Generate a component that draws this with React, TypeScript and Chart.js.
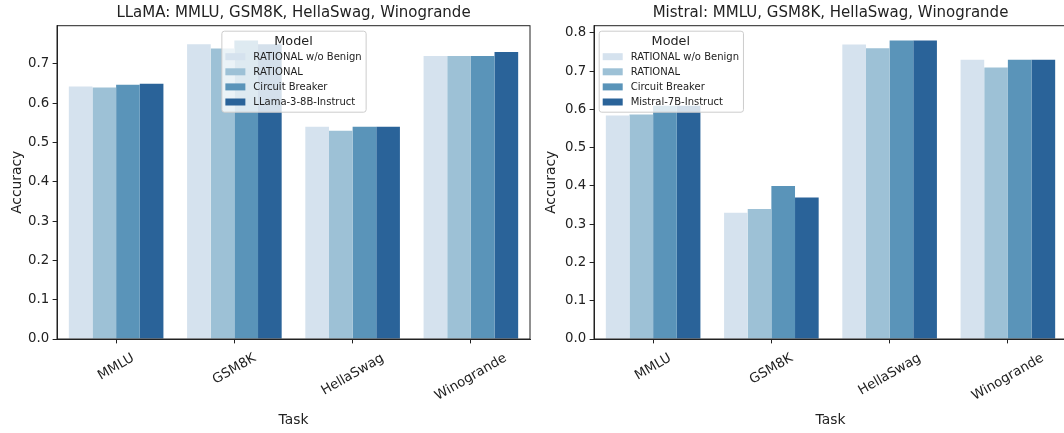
import React, { useEffect, useRef } from 'react';
import { Chart, registerables } from 'chart.js';

Chart.register(...registerables);

// ---------- data ----------
const TASKS = ['MMLU', 'GSM8K', 'HellaSwag', 'Winogrande'];
const Y_TICK_STEP = 0.1;
const LEGEND_TITLE = 'Model';
const X_TITLE = 'Task';
const Y_TITLE = 'Accuracy';

const LLAMA_TITLE = 'LLaMA: MMLU, GSM8K, HellaSwag, Winogrande';
const LLAMA_LABELS = ['RATIONAL w/o Benign', 'RATIONAL', 'Circuit Breaker', 'LLama-3-8B-Instruct'];
const LLAMA_NO_BENIGN = [0.642, 0.75, 0.54, 0.72];
const LLAMA_RATIONAL = [0.64, 0.739, 0.53, 0.72];
const LLAMA_CB = [0.647, 0.759, 0.54, 0.72];
const LLAMA_BASE = [0.649, 0.75, 0.54, 0.73];

const MISTRAL_TITLE = 'Mistral: MMLU, GSM8K, HellaSwag, Winogrande';
const MISTRAL_LABELS = ['RATIONAL w/o Benign', 'RATIONAL', 'Circuit Breaker', 'Mistral-7B-Instruct'];
const MISTRAL_NO_BENIGN = [0.584, 0.33, 0.77, 0.73];
const MISTRAL_RATIONAL = [0.587, 0.34, 0.76, 0.71];
const MISTRAL_CB = [0.61, 0.4, 0.78, 0.73];
const MISTRAL_BASE = [0.61, 0.37, 0.78, 0.73];

const COLORS = ['#d5e2ee', '#9dc1d6', '#5a94b9', '#2a6399'];

// ---------- styling ----------
const FONT = "'DejaVu Sans', sans-serif";
const INK = '#222222';
const H = 433;
const TICK_FS = 13.3;
const LABEL_FS = 13.8;

type PanelCfg = {
  title: string;
  labels: string[];
  series: number[][];
  canvasLeft: number;
  canvasWidth: number;
  yWidth: number;
  padRight: number;
  yLabelOffset: number;
  legendMode: 'center' | 'left';
};

function roundRect(ctx: CanvasRenderingContext2D, x: number, y: number, w: number, h: number, r: number) {
  ctx.beginPath();
  ctx.moveTo(x + r, y);
  ctx.lineTo(x + w - r, y);
  ctx.arcTo(x + w, y, x + w, y + r, r);
  ctx.lineTo(x + w, y + h - r);
  ctx.arcTo(x + w, y + h, x + w - r, y + h, r);
  ctx.lineTo(x + r, y + h);
  ctx.arcTo(x, y + h, x, y + h - r, r);
  ctx.lineTo(x, y + r);
  ctx.arcTo(x, y, x + r, y, r);
  ctx.closePath();
}

function makeChart(canvas: HTMLCanvasElement, cfg: PanelCfg) {
  const yMax = Math.max(...cfg.series.flat()) * 1.05;

  const decor = {
    id: 'decor',
    afterDraw(chart: any) {
      const ctx: CanvasRenderingContext2D = chart.ctx;
      const a = chart.chartArea;
      const xs = chart.scales.x;
      ctx.save();
      // full box spines
      ctx.strokeStyle = INK;
      ctx.lineWidth = 1;
      ctx.strokeRect(a.left, a.top, a.right - a.left, a.bottom - a.top);

      // title
      ctx.fillStyle = INK;
      ctx.font = `15px ${FONT}`;
      ctx.textAlign = 'center';
      ctx.textBaseline = 'middle';
      ctx.fillText(cfg.title, (a.left + a.right) / 2, 13.5);

      // x tick labels, rotated 30deg, centred at tick
      ctx.font = `${TICK_FS}px ${FONT}`;
      const ang = (30 * Math.PI) / 180;
      TASKS.forEach((t, i) => {
        const px = xs.getPixelForTick(i);
        const w = ctx.measureText(t).width;
        const bh = w * Math.sin(ang) + TICK_FS * Math.cos(ang);
        const cy = a.bottom + 12.5 + bh / 2;
        ctx.save();
        ctx.translate(px, cy);
        ctx.rotate(-ang);
        ctx.textAlign = 'center';
        ctx.textBaseline = 'middle';
        ctx.fillText(t, 0, 0);
        ctx.restore();
      });

      // axis titles
      ctx.font = `${LABEL_FS}px ${FONT}`;
      ctx.textAlign = 'center';
      ctx.textBaseline = 'middle';
      ctx.fillText(X_TITLE, (a.left + a.right) / 2, 420);
      ctx.save();
      ctx.translate(a.left - cfg.yLabelOffset, (a.top + a.bottom) / 2);
      ctx.rotate(-Math.PI / 2);
      ctx.fillText(Y_TITLE, 0, 0);
      ctx.restore();

      // legend
      ctx.font = `10px ${FONT}`;
      const maxW = Math.max(...cfg.labels.map((l) => ctx.measureText(l).width));
      const lw = 36 + maxW;
      const lh = 81;
      const lx = cfg.legendMode === 'center' ? (a.left + a.right) / 2 - lw / 2 : a.left + 4.7;
      const ly = a.top + 5;
      roundRect(ctx, lx + 0.5, ly + 0.5, lw, lh, 2.5);
      ctx.fillStyle = 'rgba(255,255,255,0.8)';
      ctx.fill();
      ctx.strokeStyle = '#cccccc';
      ctx.lineWidth = 1;
      ctx.stroke();

      ctx.fillStyle = INK;
      ctx.font = `12.8px ${FONT}`;
      ctx.textAlign = 'center';
      ctx.fillText(LEGEND_TITLE, lx + lw / 2, ly + 10.5);
      ctx.font = `10px ${FONT}`;
      ctx.textAlign = 'left';
      cfg.labels.forEach((l, i) => {
        const cy = ly + 26 + i * 15.1;
        ctx.fillStyle = COLORS[i];
        ctx.fillRect(lx + 4, cy - 3.5, 20, 7);
        ctx.fillStyle = INK;
        ctx.fillText(l, lx + 32, cy + 0.5);
      });
      ctx.restore();
    },
  };

  return new Chart(canvas, {
    type: 'bar',
    data: {
      labels: TASKS,
      datasets: cfg.series.map((d, i) => ({
        label: cfg.labels[i],
        data: d,
        backgroundColor: COLORS[i],
        borderWidth: 0,
        categoryPercentage: 0.8,
        barPercentage: 1.0,
      })),
    },
    options: {
      animation: false,
      responsive: false,
      layout: { padding: { top: 25.7, left: 0, right: cfg.padRight, bottom: 0 } },
      plugins: {
        legend: { display: false },
        title: { display: false },
        tooltip: { enabled: false },
      },
      scales: {
        x: {
          type: 'category',
          offset: true,
          grid: {
            display: true,
            drawOnChartArea: false,
            drawTicks: true,
            tickLength: 4.4,
            color: INK,
            offset: false,
            lineWidth: 1,
          },
          border: { display: true, color: INK, width: 1 },
          ticks: { display: false },
          afterFit: (s: any) => {
            s.height = H - 339;
          },
        },
        y: {
          type: 'linear',
          min: 0,
          max: yMax,
          grid: {
            display: true,
            drawOnChartArea: false,
            drawTicks: true,
            tickLength: 4.4,
            color: INK,
            lineWidth: 1,
          },
          border: { display: true, color: INK, width: 1 },
          ticks: {
            stepSize: Y_TICK_STEP,
            includeBounds: false,
            padding: 3.5,
            color: INK,
            font: { family: FONT, size: TICK_FS },
            callback: (v: any) => Number(v).toFixed(1),
          },
          afterFit: (s: any) => {
            s.width = cfg.yWidth;
          },
        },
      },
    } as any,
    plugins: [decor],
  });
}

function Panel({ cfg }: { cfg: PanelCfg }) {
  const ref = useRef<HTMLCanvasElement>(null);
  useEffect(() => {
    const c = makeChart(ref.current!, cfg);
    return () => c.destroy();
  }, []);
  return (
    <canvas
      ref={ref}
      width={cfg.canvasWidth}
      height={H}
      style={{ position: 'absolute', left: cfg.canvasLeft, top: 0, width: cfg.canvasWidth, height: H }}
    />
  );
}

const LEFT_CFG: PanelCfg = {
  title: LLAMA_TITLE,
  labels: LLAMA_LABELS,
  series: [LLAMA_NO_BENIGN, LLAMA_RATIONAL, LLAMA_CB, LLAMA_BASE],
  canvasLeft: 0,
  canvasWidth: 540,
  yWidth: 57,
  padRight: 10,
  yLabelOffset: 40,
  legendMode: 'center',
};

const RIGHT_CFG: PanelCfg = {
  title: MISTRAL_TITLE,
  labels: MISTRAL_LABELS,
  series: [MISTRAL_NO_BENIGN, MISTRAL_RATIONAL, MISTRAL_CB, MISTRAL_BASE],
  canvasLeft: 540,
  canvasWidth: 530,
  yWidth: 54,
  padRight: 3,
  yLabelOffset: 43,
  legendMode: 'left',
};

export default function App() {
  return (
    <div
      style={{
        position: 'absolute',
        left: 0,
        top: 0,
        width: 1064,
        height: H,
        overflow: 'hidden',
        background: '#ffffff',
      }}
    >
      <Panel cfg={LEFT_CFG} />
      <Panel cfg={RIGHT_CFG} />
    </div>
  );
}
